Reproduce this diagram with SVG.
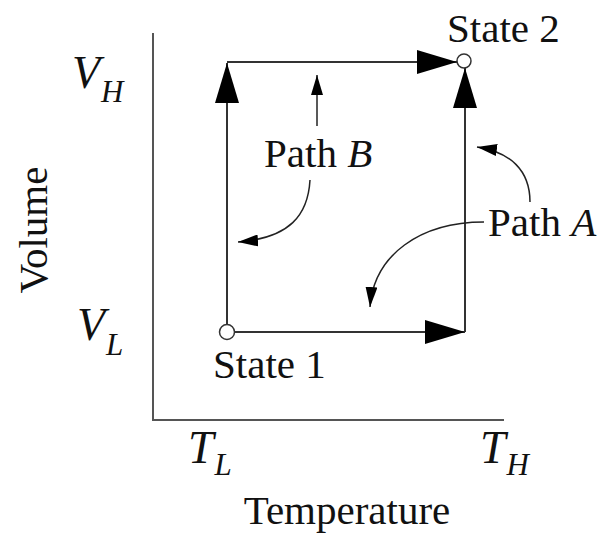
<svg xmlns="http://www.w3.org/2000/svg" width="604" height="536" viewBox="0 0 604 536">
  <style>
    text { font-family: "Liberation Serif", "Times New Roman", serif; fill: #111; }
    .lbl { font-size: 41px; }
    .sym { font-size: 46px; font-style: italic; }
    .sub { font-size: 31px; font-style: italic; }
    .it { font-style: italic; }
    .axis { fill: none; stroke: #555; stroke-width: 2; }
    .path { fill: none; stroke: #333; stroke-width: 2; }
    .lead { fill: none; stroke: #222; stroke-width: 1.5; }
    .state { fill: none; stroke: #333; stroke-width: 1.5; }
  </style>
  <defs>
    <marker id="big" viewBox="0 0 40 24" refX="40" refY="12" markerWidth="40" markerHeight="24" markerUnits="userSpaceOnUse" orient="auto">
      <path d="M0,0 L40,12 L0,24 Z" fill="#000"/>
    </marker>
    <marker id="small" viewBox="0 0 20 12" refX="20" refY="6" markerWidth="20" markerHeight="12" markerUnits="userSpaceOnUse" orient="auto">
      <path d="M0,0 L20,6 L0,12 Z" fill="#000"/>
    </marker>
  </defs>

  <g id="axes">
    <path class="axis" d="M153,33 L153,420 L504,420"/>
    <text class="sym" x="72" y="88">V<tspan class="sub" x="101" y="102">H</tspan></text>
    <text class="sym" x="77" y="340">V<tspan class="sub" x="106" y="355">L</tspan></text>
    <text class="sym" x="188" y="463">T<tspan class="sub" x="214.5" y="475">L</tspan></text>
    <text class="sym" x="480" y="463">T<tspan class="sub" x="506.5" y="475">H</tspan></text>
    <text class="lbl" x="347" y="524" text-anchor="middle">Temperature</text>
    <text class="lbl" transform="translate(47,230) rotate(-90)" text-anchor="middle">Volume</text>
  </g>

  <g id="state1">
    <circle class="state" cx="227" cy="332" r="7.5"/>
    <text class="lbl" x="213" y="378">State 1</text>
  </g>

  <g id="state2">
    <circle class="state" cx="464" cy="61" r="7"/>
    <text class="lbl" x="447" y="42">State 2</text>
  </g>

  <g id="pathB-label">
    <text class="lbl" x="264" y="167">Path <tspan class="it">B</tspan></text>
  </g>

  <g id="pathA-label">
    <text class="lbl" x="488" y="236">Path <tspan class="it">A</tspan></text>
  </g>

  <g id="connectors">
    <path class="path" d="M227,324 L227,63" marker-end="url(#big)"/>
    <path class="path" d="M227,62 L457,62" marker-end="url(#big)"/>
    <path class="path" d="M465,332 L465,68" marker-end="url(#big)"/>
    <path class="path" d="M235,332 L465,332" marker-end="url(#big)"/>
    <path class="lead" d="M317,126 L317,75" marker-end="url(#small)"/>
    <path class="lead" d="M310,180 C308,215 290,238 238,242" marker-end="url(#small)"/>
    <path class="lead" d="M484,222 C420,222 374,255 370,307" marker-end="url(#small)"/>
    <path class="lead" d="M530,202 C530,170 510,152 477,147" marker-end="url(#small)"/>
  </g>
</svg>
